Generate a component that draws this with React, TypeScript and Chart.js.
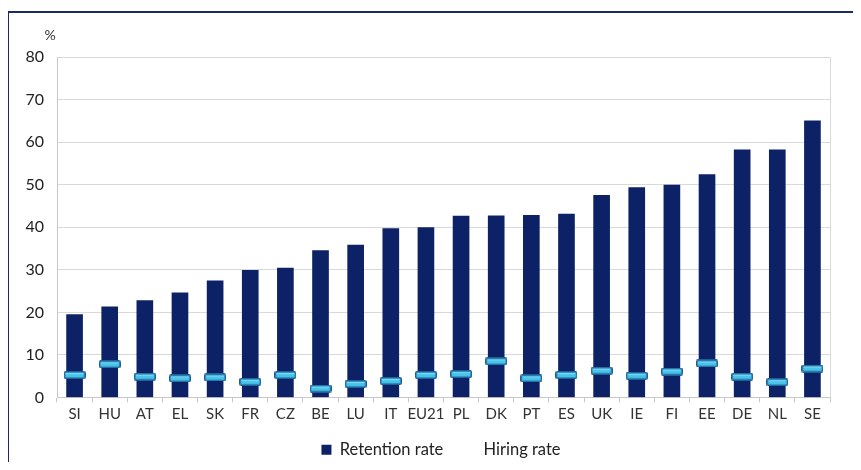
import React, { useEffect, useRef } from "react";
import { Chart, registerables } from "chart.js";

Chart.register(...registerables);

const categories = ["SI", "HU", "AT", "EL", "SK", "FR", "CZ", "BE", "LU", "IT", "EU21", "PL", "DK", "PT", "ES", "UK", "IE", "FI", "EE", "DE", "NL", "SE"];
const retentionRate = [19.5, 21.3, 22.8, 24.6, 27.4, 29.9, 30.4, 34.5, 35.8, 39.7, 39.9, 42.6, 42.7, 42.8, 43.1, 47.5, 49.3, 49.9, 52.4, 58.2, 58.2, 65.0];
const hiringRate = [5.3, 7.8, 4.9, 4.5, 4.7, 3.7, 5.3, 2.1, 3.2, 3.9, 5.3, 5.5, 8.5, 4.5, 5.3, 6.3, 5.1, 6.1, 8.0, 4.9, 3.6, 6.8];
const yTicks = [0, 10, 20, 30, 40, 50, 60, 70, 80];

const FONT = "Lato, 'Open Sans', sans-serif";

function makeMarker(): HTMLCanvasElement {
  const c = document.createElement("canvas");
  c.width = 22;
  c.height = 8;
  const ctx = c.getContext("2d")!;
  ctx.fillStyle = "#1f5f95";
  ctx.beginPath();
  (ctx as any).roundRect ? (ctx as any).roundRect(0, 0, 22, 8, 2) : ctx.rect(0, 0, 22, 8);
  ctx.fill();
  ctx.fillStyle = "#45c3ea";
  ctx.fillRect(1.5, 1.5, 19, 5);
  ctx.fillStyle = "#7fd8f3";
  ctx.fillRect(2, 2, 18, 1.2);
  return c;
}

const extrasPlugin = {
  id: "extras",
  afterDraw(chart: any) {
    const { ctx, chartArea } = chart;
    ctx.save();
    ctx.strokeStyle = "#d9d9d9";
    ctx.lineWidth = 1;
    ctx.beginPath();
    ctx.moveTo(chartArea.right + 0.5, chartArea.top);
    ctx.lineTo(chartArea.right + 0.5, chartArea.bottom);
    ctx.stroke();
    ctx.fillStyle = "#333333";
    ctx.font = "14px " + FONT;
    ctx.textAlign = "center";
    ctx.textBaseline = "middle";
    ctx.fillText("%", chartArea.left - 7, chartArea.top - 22);
    ctx.restore();
  },
};

export default function App() {
  const ref = useRef<HTMLCanvasElement>(null);
  useEffect(() => {
    const marker = makeMarker();
    const chart = new Chart(ref.current!, {
      type: "bar",
      data: {
        labels: categories,
        datasets: [
          {
            type: "line",
            label: "Hiring rate",
            data: hiringRate,
            showLine: false,
            pointStyle: marker as any,
            pointRadius: 10,
            backgroundColor: "#45c3ea",
            borderColor: "#45c3ea",
            order: 0,
          } as any,
          {
            type: "bar",
            label: "Retention rate",
            data: retentionRate,
            backgroundColor: "#0d2266",
            borderColor: "#0a1a50",
            borderWidth: 0,
            barThickness: 16,
            order: 1,
          },
        ],
      },
      options: {
        animation: false,
        responsive: false,
        maintainAspectRatio: false,
        layout: { padding: { left: 21, right: 0, top: 57, bottom: 2 } },
        plugins: {
          tooltip: { enabled: false },
          legend: {
            position: "bottom",
            labels: {
              font: { size: 16.5, family: FONT },
              color: "#222",
              boxWidth: 10,
              boxHeight: 10,
              padding: 22,
              generateLabels: () => [
                {
                  text: "Retention rate",
                  fillStyle: "#0d2266",
                  strokeStyle: "#0d2266",
                  lineWidth: 0,
                  hidden: false,
                  datasetIndex: 1,
                  fontColor: "#222",
                } as any,
                {
                  text: "Hiring rate",
                  fillStyle: "rgba(0,0,0,0)",
                  strokeStyle: "rgba(0,0,0,0)",
                  lineWidth: 0,
                  hidden: false,
                  datasetIndex: 0,
                  fontColor: "#222",
                } as any,
              ],
            },
          },
        },
        scales: {
          x: {
            offset: true,
            grid: {
              display: true,
              offset: true,
              drawOnChartArea: false,
              drawTicks: true,
              tickLength: 5,
              color: "#c8c8c8",
            },
            border: { display: true, color: "#c8c8c8" },
            ticks: {
              font: { size: 15, family: FONT },
              color: "#333",
              padding: 3,
              maxRotation: 0,
              autoSkip: false,
            },
            afterFit(scale: any) {
              scale.height = 22;
            },
          },
          y: {
            min: 0,
            max: 80,
            afterBuildTicks(scale: any) {
              scale.ticks = yTicks.map((v) => ({ value: v }));
            },
            grid: { color: "#d9d9d9", drawTicks: false },
            border: { display: true, color: "#c8c8c8" },
            ticks: {
              font: { size: 16, family: FONT },
              color: "#222",
              padding: 13,
            },
            afterFit(scale: any) {
              scale.width = 36;
            },
          },
          yRight: {
            position: "right",
            min: 0,
            max: 80,
            display: true,
            grid: { drawOnChartArea: false, drawTicks: false, display: false },
            border: { display: false },
            ticks: { display: false },
            afterFit(scale: any) {
              scale.width = 31;
            },
          },
        },
      },
      plugins: [extrasPlugin],
    });
    return () => chart.destroy();
  }, []);

  return (
    <div style={{ position: "relative", width: 861, height: 470, margin: -8, background: "#fff", overflow: "hidden" }}>
      <canvas ref={ref} width={861} height={470} style={{ position: "absolute", left: 0, top: 0, width: 861, height: 470 }} />
      <div style={{ position: "absolute", left: 7, top: 11, width: 854, height: 2, background: "#1b2b5e" }} />
      <div style={{ position: "absolute", left: 7, top: 11, width: 1.5, height: 459, background: "#1b2b5e" }} />
    </div>
  );
}
